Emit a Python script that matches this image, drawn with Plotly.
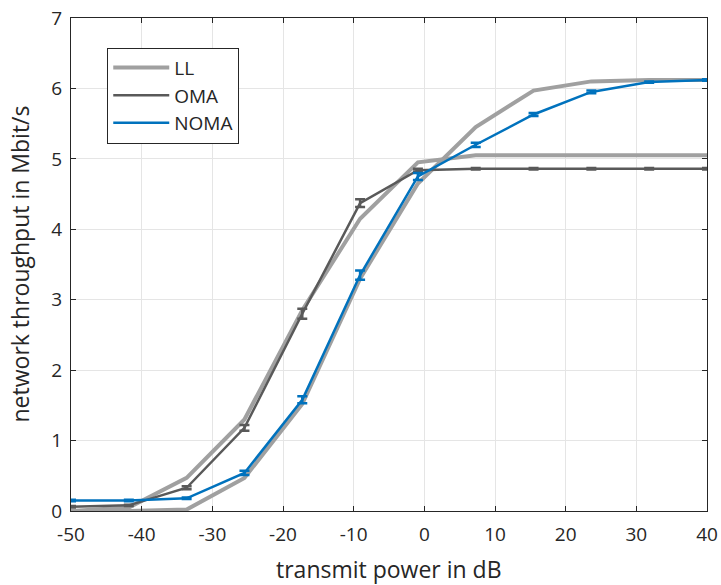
import numpy as np
import plotly.graph_objects as go

# transmit power sweep (dB)
power_db = np.linspace(-50, 40, 12)

# link-level reference curves
ll_oma = [0.0, 0.05, 0.47, 1.30, 2.85, 4.15, 4.95, 5.05, 5.05, 5.05, 5.05, 5.05]
ll_noma = [0.0, 0.0, 0.02, 0.47, 1.52, 3.30, 4.65, 5.45, 5.97, 6.10, 6.12, 6.12]

# simulated throughput with confidence intervals
oma = [0.06, 0.08, 0.33, 1.18, 2.80, 4.37, 4.84, 4.86, 4.86, 4.86, 4.86, 4.86]
oma_err = [0.01, 0.01, 0.02, 0.04, 0.07, 0.055, 0.02, 0.01, 0.01, 0.01, 0.01, 0.01]
noma = [0.15, 0.15, 0.18, 0.54, 1.58, 3.35, 4.75, 5.20, 5.63, 5.95, 6.09, 6.12]
noma_err = [0.01, 0.01, 0.01, 0.03, 0.05, 0.065, 0.05, 0.03, 0.02, 0.02, 0.01, 0.01]

x_ticks = list(range(-50, 41, 10))
x_ticklabels = [str(v) for v in x_ticks]
y_ticks = list(range(0, 8))

LL_COLOR = "#a0a0a0"
OMA_COLOR = "#595959"
NOMA_COLOR = "#0072BD"
TEXT = "#262626"
FONT = "Open Sans"

fig = go.Figure()

fig.add_trace(go.Scatter(x=power_db, y=ll_oma, mode="lines", name="LL",
                         line=dict(color=LL_COLOR, width=4)))
fig.add_trace(go.Scatter(x=power_db, y=ll_noma, mode="lines", name="LL",
                         showlegend=False, line=dict(color=LL_COLOR, width=4)))
fig.add_trace(go.Scatter(x=power_db, y=oma, mode="lines", name="OMA",
                         line=dict(color=OMA_COLOR, width=2.5),
                         error_y=dict(type="data", array=oma_err, color=OMA_COLOR,
                                      thickness=2.5, width=5)))
fig.add_trace(go.Scatter(x=power_db, y=noma, mode="lines", name="NOMA",
                         line=dict(color=NOMA_COLOR, width=2.5),
                         error_y=dict(type="data", array=noma_err, color=NOMA_COLOR,
                                      thickness=2.5, width=5)))

axis_common = dict(
    showline=True, linecolor=TEXT, linewidth=1, mirror="ticks",
    ticks="inside", ticklen=5, tickcolor=TEXT, tickwidth=1,
    showgrid=True, gridcolor="#e5e5e5", gridwidth=1, zeroline=False,
    tickfont=dict(family=FONT, size=19, color=TEXT),
    automargin=False,
)

fig.update_layout(
    width=721, height=585,
    margin=dict(l=71, r=14, t=18, b=74),
    paper_bgcolor="white", plot_bgcolor="white",
    font=dict(family=FONT, color=TEXT),
    xaxis=dict(range=[-50, 40], tickvals=x_ticks, ticktext=x_ticklabels,
               ticklabelstandoff=6, **axis_common),
    yaxis=dict(range=[0, 7], tickvals=y_ticks, ticklabelstandoff=4,
               **axis_common),
    legend=dict(x=0.057, y=0.94, xanchor="left", yanchor="top",
                bgcolor="white", bordercolor=TEXT, borderwidth=1,
                font=dict(family=FONT, size=19, color=TEXT),
                tracegroupgap=0, itemwidth=56),
    showlegend=True,
    annotations=[
        dict(text="transmit power in dB", xref="paper", yref="paper",
             x=0.5, y=0, yshift=-40, xanchor="center", yanchor="top",
             showarrow=False, font=dict(family=FONT, size=23, color=TEXT)),
        dict(text="network throughput in Mbit/s", xref="paper", yref="paper",
             x=0, y=0.5, xshift=-70, xanchor="left", yanchor="middle", textangle=-90,
             showarrow=False, font=dict(family=FONT, size=23, color=TEXT)),
    ],
)

fig.write_html("out.html")
